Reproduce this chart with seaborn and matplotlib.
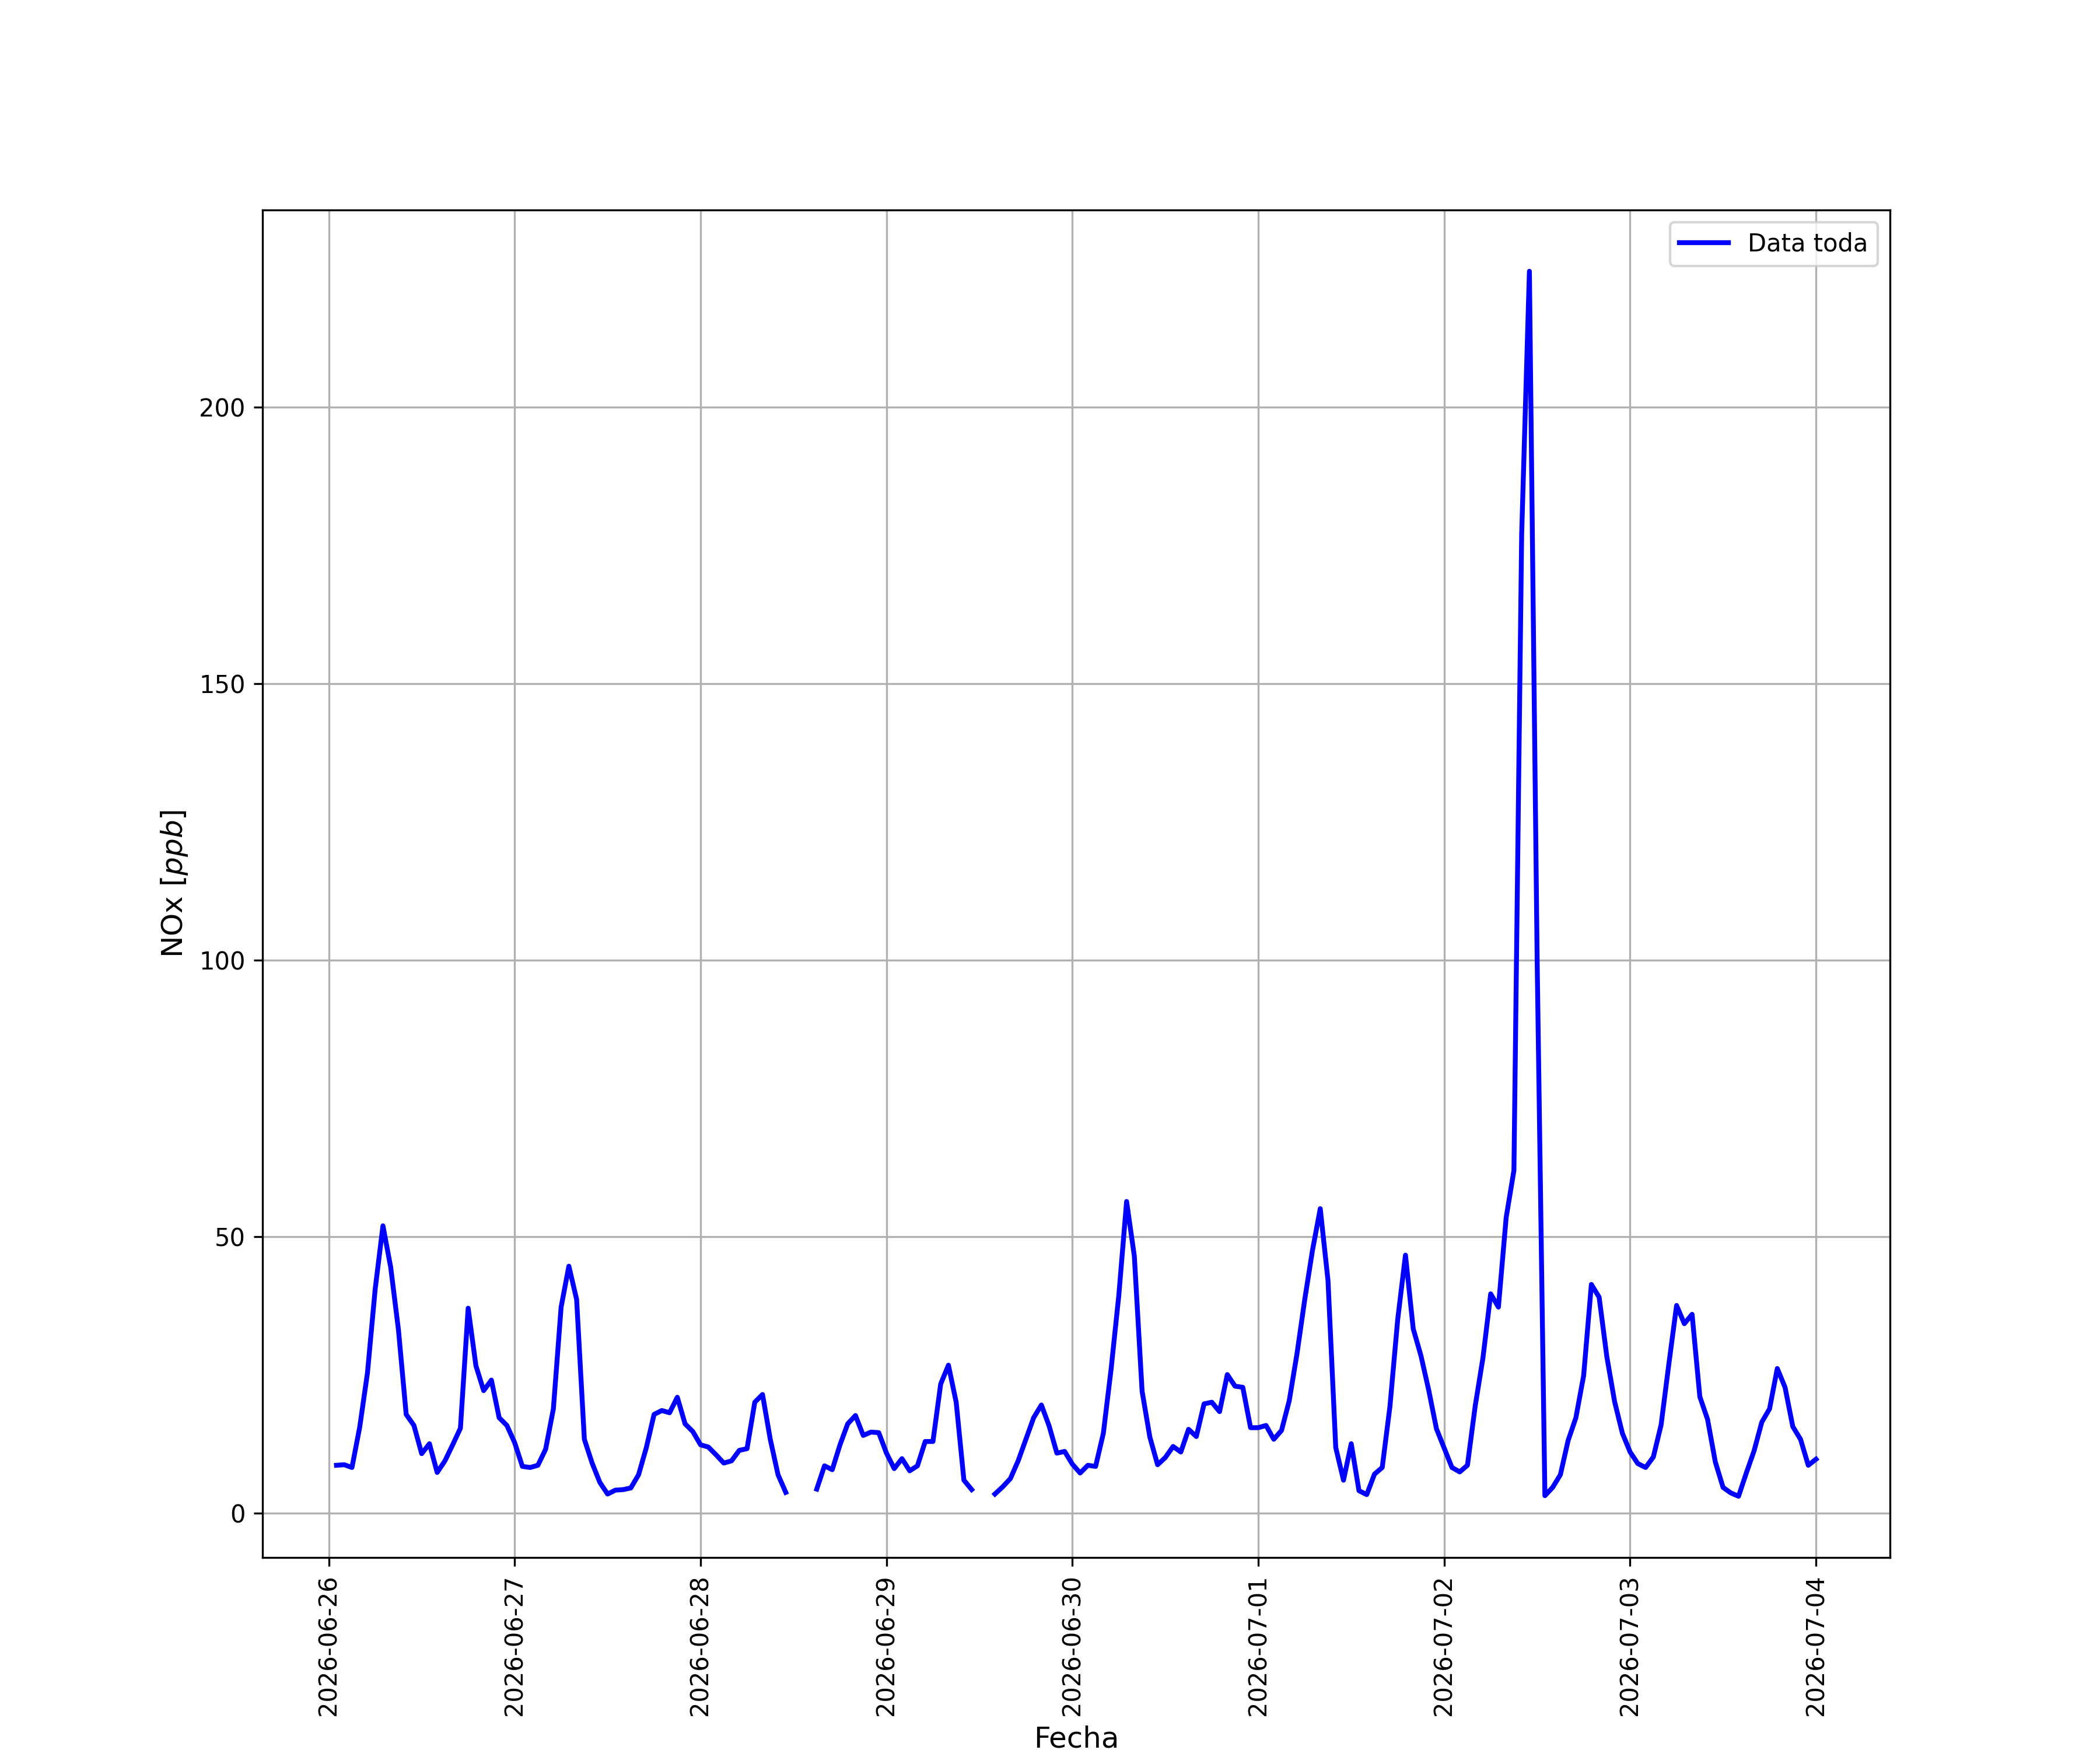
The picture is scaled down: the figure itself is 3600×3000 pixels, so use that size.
import matplotlib
matplotlib.use("Agg")
import matplotlib.pyplot as plt
import matplotlib.dates as mdates
import seaborn as sns
import numpy as np
import pandas as pd

nan = np.nan

# hourly NOx readings [ppb], hours 01..24 of each day (24 = next day's 00:00)
dia_0626 = [8.7, 8.8, 8.3, 15.6, 25.4, 40.6, 52.0, 44.5, 33.2, 17.9, 15.9, 10.8,
            12.6, 7.4, 9.5, 12.4, 15.4, 37.1, 26.7, 22.2, 24.1, 17.3, 15.9, 12.8]
dia_0627 = [8.5, 8.3, 8.7, 11.6, 18.9, 37.3, 44.7, 38.7, 13.4, 9.1, 5.6, 3.5,
            4.2, 4.3, 4.6, 7.0, 11.9, 17.9, 18.6, 18.2, 21.0, 16.2, 14.8, 12.4]
dia_0628 = [12.0, 10.6, 9.1, 9.5, 11.4, 11.7, 20.1, 21.5, 13.4, 7.0, 3.8, nan,
            nan, nan, 4.4, 8.6, 7.9, 12.4, 16.2, 17.7, 14.1, 14.7, 14.6, 10.9]
dia_0629 = [8.1, 9.9, 7.7, 8.6, 13.0, 13.0, 23.4, 26.8, 20.1, 6.0, 4.3, nan,
            nan, 3.5, 4.8, 6.3, 9.5, 13.4, 17.3, 19.6, 15.8, 10.9, 11.2, 8.9]
dia_0630 = [7.3, 8.7, 8.5, 14.5, 26.1, 39.5, 56.4, 46.5, 22.1, 13.8, 8.8, 10.1,
            12.1, 11.1, 15.2, 13.9, 19.8, 20.1, 18.4, 25.1, 23.0, 22.8, 15.5, 15.5]
dia_0701 = [15.9, 13.4, 15.0, 20.4, 28.9, 38.7, 47.6, 55.1, 42.1, 11.9, 6.0, 12.6,
            4.1, 3.4, 7.1, 8.3, 19.4, 35.1, 46.7, 33.4, 28.5, 22.3, 15.3, 11.8]
dia_0702 = [8.3, 7.5, 8.7, 19.4, 28.1, 39.7, 37.3, 53.5, 62.0, 177.0, 224.6, 100.0,
            3.2, 4.7, 7.0, 13.2, 17.3, 24.9, 41.4, 39.1, 28.3, 20.2, 14.5, 11.1]
dia_0703 = [9.0, 8.3, 10.2, 16.0, 27.0, 37.6, 34.3, 36.0, 21.1, 17.0, 9.3, 4.7,
            3.7, 3.1, 7.3, 11.3, 16.5, 18.9, 26.2, 22.8, 15.7, 13.4, 8.7, 9.8]

nox = (dia_0626 + dia_0627 + dia_0628 + dia_0629 +
       dia_0630 + dia_0701 + dia_0702 + dia_0703)
fechas = pd.date_range("2026-06-26 01:00", periods=len(nox), freq="h")

df = pd.DataFrame({"Fecha": fechas, "NOx": nox})
# split into contiguous runs so missing hours leave gaps in the line
df["tramo"] = df["NOx"].isna().cumsum()
df = df.dropna()

fig, ax = plt.subplots(figsize=(12, 10), dpi=300)

for i, (_, seg) in enumerate(df.groupby("tramo")):
    sns.lineplot(data=seg, x="Fecha", y="NOx", ax=ax, color="blue",
                 linewidth=2, label="Data toda" if i == 0 else None,
                 legend=False)

ax.xaxis.set_major_locator(mdates.DayLocator())
ax.xaxis.set_major_formatter(mdates.DateFormatter("%Y-%m-%d"))
plt.setp(ax.get_xticklabels(), rotation=90)

ax.set_xlabel("Fecha", fontsize=12)
ax.set_ylabel("NOx [$ppb$]", fontsize=12)
ax.grid(True)
ax.legend(loc="upper right")

plt.savefig("out.png", dpi=300)
